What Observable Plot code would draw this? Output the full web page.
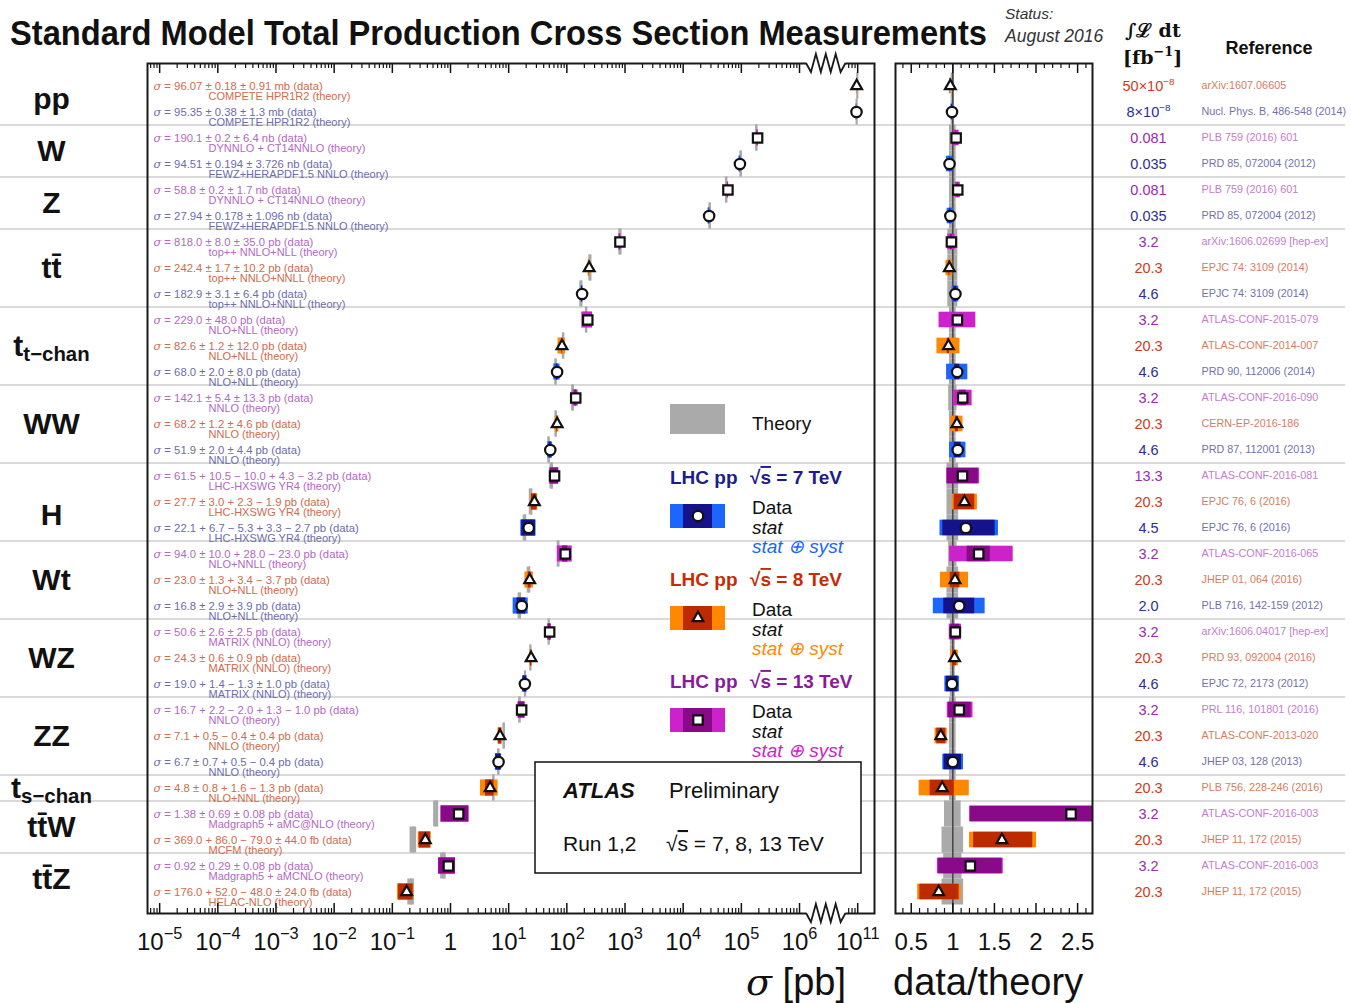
<!DOCTYPE html>
<html><head><meta charset="utf-8">
<script src="https://cdn.jsdelivr.net/npm/d3@7"></script>
<script src="https://cdn.jsdelivr.net/npm/@observablehq/plot@0.6"></script>
<style>
body{margin:0;background:#fff;}
#page{position:relative;width:1351px;height:1003px;overflow:hidden;font-family:"Liberation Sans",Arial,Helvetica,sans-serif;background:#fff;}
#page svg{position:absolute;top:0;}
</style></head><body><div id="page"></div>
<script>
// ---------------- DATA ----------------
const processes = ["pp","W","Z","tt\u0304","t_{t−chan}","WW","H","Wt","WZ","ZZ","t_{s−chan}","tt\u0304W","tt\u0304Z"];
const processRowCounts = [2,2,2,3,3,3,3,3,3,3,1,2,2];
const energies = [8,7, 13,7, 13,7, 13,8,7, 13,8,7, 13,8,7, 13,8,7, 13,8,7, 13,8,7, 13,8,7, 8, 13,8, 13,8];
const sigmaPb = [96.07e9,95.35e9,190.1e3,94.51e3,58.8e3,27.94e3,818.0,242.4,182.9,229.0,82.6,68.0,142.1,68.2,51.9,61.5,27.7,22.1,94.0,23.0,16.8,50.6,24.3,19.0,16.7,7.1,6.7,4.8,1.38,0.369,0.92,0.176];
const statUp   = [0.18e9,0.38e9,0.2e3,0.194e3,0.2e3,0.178e3,8.0,1.7,3.1,0,1.2,2.0,5.4,1.2,2.0,10.5,3.0,6.7,10.0,1.3,2.9,2.6,0.6,1.4,2.2,0.5,0.7,0.8,0.69,0.086,0.29,0.052];
const statDown = [0.18e9,0.38e9,0.2e3,0.194e3,0.2e3,0.178e3,8.0,1.7,3.1,0,1.2,2.0,5.4,1.2,2.0,10.0,3.0,5.3,10.0,1.3,2.9,2.6,0.6,1.3,2.0,0.4,0.7,0.8,0.69,0.079,0.29,0.048];
const systUp   = [0.91e9,1.3e9,6.4e3,3.726e3,1.7e3,1.096e3,35.0,10.2,6.4,48.0,12.0,8.0,13.3,4.6,4.4,4.3,2.3,3.3,28.0,3.4,3.9,2.5,0.9,1.0,1.3,0.4,0.5,1.6,0.08,0.044,0.08,0.024];
const systDown = [0.91e9,1.3e9,6.4e3,3.726e3,1.7e3,1.096e3,35.0,10.2,6.4,48.0,12.0,8.0,13.3,4.6,4.4,3.2,1.9,2.7,23.0,3.7,3.9,2.5,0.9,1.0,1.0,0.4,0.4,1.3,0.08,0.044,0.08,0.024];
const theoryPb = [99.0e9,96.3e9,182.8e3,98.4e3,55.5e3,28.8e3,832,252.9,177.3,217,87.2,64.6,127,65.0,49.0,55.1,24.3,19.1,71.7,22.4,15.6,49.1,23.8,19.2,15.5,8.3,6.7,5.5,0.57,0.232,0.76,0.212];
const theoryRelErr = [0.02,0.02,0.04,0.04,0.04,0.04,0.06,0.06,0.06,0.04,0.04,0.04,0.05,0.04,0.04,0.07,0.07,0.07,0.05,0.07,0.07,0.03,0.03,0.03,0.04,0.04,0.04,0.04,0.10,0.13,0.11,0.13];
const dataTexts = [
"σ = 96.07 ± 0.18 ± 0.91 mb (data)","σ = 95.35 ± 0.38 ± 1.3 mb (data)",
"σ = 190.1 ± 0.2 ± 6.4 nb (data)","σ = 94.51 ± 0.194 ± 3.726 nb (data)",
"σ = 58.8 ± 0.2 ± 1.7 nb (data)","σ = 27.94 ± 0.178 ± 1.096 nb (data)",
"σ = 818.0 ± 8.0 ± 35.0 pb (data)","σ = 242.4 ± 1.7 ± 10.2 pb (data)","σ = 182.9 ± 3.1 ± 6.4 pb (data)",
"σ = 229.0 ± 48.0 pb (data)","σ = 82.6 ± 1.2 ± 12.0 pb (data)","σ = 68.0 ± 2.0 ± 8.0 pb (data)",
"σ = 142.1 ± 5.4 ± 13.3 pb (data)","σ = 68.2 ± 1.2 ± 4.6 pb (data)","σ = 51.9 ± 2.0 ± 4.4 pb (data)",
"σ = 61.5 + 10.5 − 10.0 + 4.3 − 3.2 pb (data)","σ = 27.7 ± 3.0 + 2.3 − 1.9 pb (data)","σ = 22.1 + 6.7 − 5.3 + 3.3 − 2.7 pb (data)",
"σ = 94.0 ± 10.0 + 28.0 − 23.0 pb (data)","σ = 23.0 ± 1.3 + 3.4 − 3.7 pb (data)","σ = 16.8 ± 2.9 ± 3.9 pb (data)",
"σ = 50.6 ± 2.6 ± 2.5 pb (data)","σ = 24.3 ± 0.6 ± 0.9 pb (data)","σ = 19.0 + 1.4 − 1.3 ± 1.0 pb (data)",
"σ = 16.7 + 2.2 − 2.0 + 1.3 − 1.0 pb (data)","σ = 7.1 + 0.5 − 0.4 ± 0.4 pb (data)","σ = 6.7 ± 0.7 + 0.5 − 0.4 pb (data)",
"σ = 4.8 ± 0.8 + 1.6 − 1.3 pb (data)",
"σ = 1.38 ± 0.69 ± 0.08 pb (data)","σ = 369.0 + 86.0 − 79.0 ± 44.0 fb (data)",
"σ = 0.92 ± 0.29 ± 0.08 pb (data)","σ = 176.0 + 52.0 − 48.0 ± 24.0 fb (data)"];
const theoryTexts = [
"COMPETE HPR1R2 (theory)","COMPETE HPR1R2 (theory)",
"DYNNLO + CT14NNLO (theory)","FEWZ+HERAPDF1.5 NNLO (theory)",
"DYNNLO + CT14NNLO (theory)","FEWZ+HERAPDF1.5 NNLO (theory)",
"top++ NNLO+NLL (theory)","top++ NNLO+NNLL (theory)","top++ NNLO+NNLL (theory)",
"NLO+NLL (theory)","NLO+NLL (theory)","NLO+NLL (theory)",
"NNLO (theory)","NNLO (theory)","NNLO (theory)",
"LHC-HXSWG YR4 (theory)","LHC-HXSWG YR4 (theory)","LHC-HXSWG YR4 (theory)",
"NLO+NNLL (theory)","NLO+NLL (theory)","NLO+NLL (theory)",
"MATRIX (NNLO) (theory)","MATRIX (NNLO) (theory)","MATRIX (NNLO) (theory)",
"NNLO (theory)","NNLO (theory)","NNLO (theory)",
"NLO+NNL (theory)",
"Madgraph5 + aMC@NLO (theory)","MCFM (theory)",
"Madgraph5 + aMCNLO (theory)","HELAC-NLO (theory)"];
const lumiTexts = ["50×10^{−8}","8×10^{−8}","0.081","0.035","0.081","0.035","3.2","20.3","4.6","3.2","20.3","4.6","3.2","20.3","4.6","13.3","20.3","4.5","3.2","20.3","2.0","3.2","20.3","4.6","3.2","20.3","4.6","20.3","3.2","20.3","3.2","20.3"];
const refTexts = ["arXiv:1607.06605","Nucl. Phys. B, 486-548 (2014)","PLB 759 (2016) 601","PRD 85, 072004 (2012)","PLB 759 (2016) 601","PRD 85, 072004 (2012)",
"arXiv:1606.02699 [hep-ex]","EPJC 74: 3109 (2014)","EPJC 74: 3109 (2014)",
"ATLAS-CONF-2015-079","ATLAS-CONF-2014-007","PRD 90, 112006 (2014)",
"ATLAS-CONF-2016-090","CERN-EP-2016-186","PRD 87, 112001 (2013)",
"ATLAS-CONF-2016-081","EPJC 76, 6 (2016)","EPJC 76, 6 (2016)",
"ATLAS-CONF-2016-065","JHEP 01, 064 (2016)","PLB 716, 142-159 (2012)",
"arXiv:1606.04017 [hep-ex]","PRD 93, 092004 (2016)","EPJC 72, 2173 (2012)",
"PRL 116, 101801 (2016)","ATLAS-CONF-2013-020","JHEP 03, 128 (2013)",
"PLB 756, 228-246 (2016)","ATLAS-CONF-2016-003","JHEP 11, 172 (2015)","ATLAS-CONF-2016-003","JHEP 11, 172 (2015)"];
const xTickExponents = [-5,-4,-3,-2,-1,0,1,2,3,4,5,6,7];
const xTickLabels = ["10^{−5}","10^{−4}","10^{−3}","10^{−2}","10^{−1}","1","10^{1}","10^{2}","10^{3}","10^{4}","10^{5}","10^{6}","10^{11}"];
const ratioTicks = [0.5,1,1.5,2,2.5];
const ratioTickLabels = ["0.5","1","1.5","2","2.5"];
const axisBreakShift = 1e-4; // values above 1e8 pb are drawn after the axis break (10^11 shown at 10^7)

// ---------------- STYLES ----------------
const energyStyle = {
  7:  {stat:"#16128c", total:"#1a66ff", symbol:"circle",   r:5.2, note:"#6c6cac", lumi:"#2d2d98", ref:"#7272aa", legend:"#1c1c8e", label:"7"},
  8:  {stat:"#bb2a00", total:"#ff8800", symbol:"triangle", r:4.0, note:"#d26a4c", lumi:"#cf3a1c", ref:"#d77c60", legend:"#c42c06", label:"8"},
  13: {stat:"#880a88", total:"#cc22cc", symbol:"square",   r:5.3, note:"#b468c2", lumi:"#9c2aac", ref:"#c47ccc", legend:"#8b1a9b", label:"13"}
};
const labelNudgeRows = {"H": 0.5};
const FONT = "Liberation Sans, Arial, Helvetica, sans-serif";
const svgNS = "http://www.w3.org/2000/svg";
const page = document.getElementById("page");

// ---------------- DERIVED ----------------
const groups = []; let start = 0;
processes.forEach((p,k)=>{const n=processRowCounts[k]; groups.push({label:p, center:start+(n-1)/2}); start+=n;});
const separators = []; {let c=0; for(let k=0;k<processRowCounts.length-1;k++){c+=processRowCounts[k]; separators.push(c-0.5);}}
const rows = energies.map((e,i)=>{
  const s=sigmaPb[i], th=theoryPb[i], sc = s>1e8 ? axisBreakShift : 1;
  const tU=Math.hypot(statUp[i],systUp[i]), tD=Math.hypot(statDown[i],systDown[i]);
  return {i, e, row:i, x:s*sc,
    statLo:(s-statDown[i])*sc, statHi:(s+statUp[i])*sc, totLo:(s-tD)*sc, totHi:(s+tU)*sc,
    th:th*sc, thLo:th*(1-theoryRelErr[i])*sc, thHi:th*(1+theoryRelErr[i])*sc,
    r:s/th, rStatLo:(s-statDown[i])/th, rStatHi:(s+statUp[i])/th, rTotLo:(s-tD)/th, rTotHi:(s+tU)/th,
    rThLo:1-theoryRelErr[i], rThHi:1+theoryRelErr[i],
    dataText:dataTexts[i], theoryText:theoryTexts[i], lumi:lumiTexts[i], ref:refTexts[i]};
});

const H=1003, MT=63, MB=90, FH=H-MT-MB;
const yOpt = {domain:[-0.865,31.827], reverse:true, axis:null};
const xMajor = xTickExponents.map(k=>10**k);
const xMinor = [];
for(let k=-6;k<=7;k++) for(let m=2;m<=9;m++){const v=m*10**k; const l=Math.log10(v); if(l>-5.209&&l<7.289&&!(l>6.1&&l<6.83)) xMinor.push(v);}
const rMinor = d3.range(4,27).map(v=>v/10).filter(v=>Math.abs(v*2-Math.round(v*2))>1e-6);

function dotsFor(xField){
  return [7,8,13].map(e=>{const st=energyStyle[e];
    return Plot.dot(rows.filter(d=>d.e===e), {x:xField, y:"row", symbol:st.symbol, r:st.r, fill:"white", stroke:"#111", strokeWidth:2.2});});
}

// ---------------- LEFT PANEL ----------------
const plotA = Plot.plot({
  width:885, height:H, marginLeft:147, marginRight:11, marginTop:MT, marginBottom:MB,
  x:{type:"log", domain:[10**-5.209, 10**7.289], axis:null},
  y:yOpt, color:{type:"identity"},
  style:{background:"transparent", overflow:"visible", fontFamily:FONT},
  marks:[
    Plot.ruleY(separators, {y:d=>d, stroke:"#dadada", strokeWidth:2, insetLeft:-147, insetRight:-11}),
    Plot.text(rows, {y:"row", frameAnchor:"left", dx:6, text:"dataText", textAnchor:"start", fontSize:11.3, fill:d=>energyStyle[d.e].note}),
    Plot.text(rows, {y:"row", frameAnchor:"left", dx:61, dy:10, text:"theoryText", textAnchor:"start", fontSize:11, fill:d=>energyStyle[d.e].note}),
    Plot.rect(rows, {x1:"thLo", x2:"thHi", y1:d=>d.row-0.5, y2:d=>d.row+0.5, fill:"#aaaaaa"}),
    Plot.ruleX(rows, {x:"th", y1:d=>d.row-0.5, y2:d=>d.row+0.5, stroke:"#aaaaaa", strokeWidth:2}),
    Plot.rect(rows, {x1:"totLo", x2:"totHi", y1:d=>d.row-0.31, y2:d=>d.row+0.31, fill:d=>energyStyle[d.e].total}),
    Plot.rect(rows.filter(d=>d.statHi>d.statLo), {x1:"statLo", x2:"statHi", y1:d=>d.row-0.31, y2:d=>d.row+0.31, fill:d=>energyStyle[d.e].stat}),
    ...dotsFor("x"),
    Plot.ruleX(xMajor, {x:d=>d, insetBottom:FH-10, stroke:"#111", strokeWidth:1.5}),
    Plot.ruleX(xMajor, {x:d=>d, insetTop:FH-10, stroke:"#111", strokeWidth:1.5}),
    Plot.ruleX(xMinor, {x:d=>d, insetBottom:FH-5, stroke:"#111", strokeWidth:1.2}),
    Plot.ruleX(xMinor, {x:d=>d, insetTop:FH-5, stroke:"#111", strokeWidth:1.2}),
    Plot.frame({stroke:"#1a1a1a", strokeWidth:2}),
    Plot.text(xMajor, {x:d=>d, text:(d,i)=>xTickLabels[i], frameAnchor:"bottom", dy:36, fontSize:24, fill:"#111"}),
    Plot.text(groups, {y:d=>d.center+(labelNudgeRows[d.label]||0), text:"label", frameAnchor:"left", dx:-96, textAnchor:"middle", fontSize:30, fontWeight:"bold", fill:"#111"})
  ]
});
plotA.style.left = "0px";
page.appendChild(plotA);
{
  const xs = plotA.scale("x"); const s = d3.select(plotA);
  const zx0 = xs.apply(10**6.12), zx1 = xs.apply(10**6.80);
  [MT, H-MB].forEach(yy=>{
    s.append("rect").attr("x",zx0).attr("y",yy-3).attr("width",zx1-zx0).attr("height",6).attr("fill","white");
    const n=8; const pts=d3.range(n+1).map(j=>[zx0+(zx1-zx0)*j/n, (j===0||j===n)?yy:(j%2?yy+9:yy-9)]);
    s.append("path").attr("d",d3.line()(pts)).attr("fill","none").attr("stroke","#1a1a1a").attr("stroke-width",1.8);
  });
}

// ---------------- RATIO PANEL ----------------
const RMAX = 2.679, RMIN = 0.311;
const clampR = v=>Math.max(RMIN, Math.min(RMAX, v));
const plotB = Plot.plot({
  width:466, height:H, marginLeft:10, marginRight:259, marginTop:MT, marginBottom:MB,
  x:{domain:[RMIN,RMAX], axis:null}, y:yOpt, color:{type:"identity"},
  style:{background:"transparent", overflow:"visible", fontFamily:FONT},
  marks:[
    Plot.ruleY(separators, {y:d=>d, stroke:"#dadada", strokeWidth:2, insetLeft:-10, insetRight:-253}),
    Plot.rect(rows, {x1:"rThLo", x2:"rThHi", y1:d=>d.row-0.5, y2:d=>d.row+0.5, fill:"#aaaaaa"}),
    Plot.ruleX([1], {x:d=>d, stroke:"#444", strokeWidth:1.5}),
    Plot.rect(rows, {x1:d=>clampR(d.rTotLo), x2:d=>clampR(d.rTotHi), y1:d=>d.row-0.3, y2:d=>d.row+0.3, fill:d=>energyStyle[d.e].total}),
    Plot.rect(rows.filter(d=>d.rStatHi>d.rStatLo), {x1:d=>clampR(d.rStatLo), x2:d=>clampR(d.rStatHi), y1:d=>d.row-0.3, y2:d=>d.row+0.3, fill:d=>energyStyle[d.e].stat}),
    ...dotsFor("r"),
    Plot.ruleX(ratioTicks, {x:d=>d, insetBottom:FH-10, stroke:"#111", strokeWidth:1.5}),
    Plot.ruleX(ratioTicks, {x:d=>d, insetTop:FH-10, stroke:"#111", strokeWidth:1.5}),
    Plot.ruleX(rMinor, {x:d=>d, insetBottom:FH-5, stroke:"#111", strokeWidth:1.2}),
    Plot.ruleX(rMinor, {x:d=>d, insetTop:FH-5, stroke:"#111", strokeWidth:1.2}),
    Plot.frame({stroke:"#1a1a1a", strokeWidth:2}),
    Plot.text(ratioTicks, {x:d=>d, text:(d,i)=>ratioTickLabels[i], frameAnchor:"bottom", dy:36, fontSize:24, fill:"#111"}),
    Plot.text(rows, {y:"row", text:"lumi", frameAnchor:"right", dx:56, textAnchor:"middle", fontSize:14.5, fill:d=>energyStyle[d.e].lumi}),
    Plot.text(rows, {y:"row", text:"ref", frameAnchor:"right", dx:109, textAnchor:"start", fontSize:10.8, fill:d=>energyStyle[d.e].ref})
  ]
});
plotB.style.left = "885px";
page.appendChild(plotB);

// ---------------- OVERLAY: titles, legend, ATLAS box ----------------
const ov = d3.select(page).append("svg").attr("width",1351).attr("height",H).style("left","0px").style("pointer-events","none").style("font-family",FONT);
function T(x,y,s,o={}){const t=ov.append("text").attr("x",x).attr("y",y).text(s).attr("font-size",o.fs||18).attr("fill",o.fill||"#111");
  if(o.bold) t.attr("font-weight","bold"); if(o.italic) t.attr("font-style","italic"); if(o.anchor) t.attr("text-anchor",o.anchor);
  if(o.family) t.attr("font-family",o.family); return t;}
T(10,45,"Standard Model Total Production Cross Section Measurements",{fs:35,bold:true,family:"Liberation Sans Narrow, Liberation Sans, Arial, sans-serif"}).attr("textLength",977).attr("lengthAdjust","spacingAndGlyphs");
T(1005,19,"Status:",{fs:15.5,italic:true,fill:"#333"});
T(1005,42,"August 2016",{fs:17.5,italic:true,fill:"#333"});
T(1125,37,"∫ℒ dt",{fs:19,bold:true,family:"DejaVu Serif, serif"});
T(1123,64,"[fb^{−1}]",{fs:19,bold:true,family:"DejaVu Serif, serif"});
T(1269,54,"Reference",{fs:18,bold:true,anchor:"middle"});
T(846,995,"σ [pb]",{fs:38,anchor:"end"});
T(893,995,"data/theory",{fs:38});

// legend
ov.append("rect").attr("x",670).attr("y",404).attr("width",55).attr("height",30).attr("fill","#aaaaaa");
T(752,430,"Theory",{fs:19});
[7,8,13].forEach((e,k)=>{
  const st=energyStyle[e], y0=477+102*k;
  T(670,y0+7,"LHC pp",{fs:19,bold:true,fill:st.legend});
  const t=T(750,y0+7,"",{fs:19,bold:true,fill:st.legend});
  t.append("tspan").text("√");
  t.append("tspan").text("s").style("text-decoration","overline");
  t.append("tspan").text(" = "+st.label+" TeV");
  ov.append("rect").attr("x",670).attr("y",y0+27).attr("width",55).attr("height",24).attr("fill",st.total);
  ov.append("rect").attr("x",683).attr("y",y0+27).attr("width",29).attr("height",24).attr("fill",st.stat);
  const sym = {circle:d3.symbolCircle, triangle:d3.symbolTriangle, square:d3.symbolSquare}[st.symbol];
  ov.append("path").attr("d",d3.symbol(sym, Math.PI*st.r*st.r)()).attr("transform",`translate(698,${y0+39})`).attr("fill","white").attr("stroke","#111").attr("stroke-width",2.2);
  T(752,y0+37,"Data",{fs:19});
  T(752,y0+57,"stat",{fs:19,italic:true});
  T(752,y0+76,"stat ⊕ syst",{fs:19,italic:true,fill:st.total});
});
// ATLAS box
ov.append("rect").attr("x",535).attr("y",762).attr("width",326).attr("height",111).attr("fill","white").attr("stroke","#111").attr("stroke-width",1.5);
T(563,798,"ATLAS",{fs:22,bold:true,italic:true});
T(669,798,"Preliminary",{fs:22});
T(563,851,"Run 1,2",{fs:21});
{const t=T(666,851,"",{fs:21}); t.append("tspan").text("√"); t.append("tspan").text("s").style("text-decoration","overline"); t.append("tspan").text(" = 7, 8, 13 TeV");}

// ---------------- rich text (sub/superscripts, italic sigma) ----------------
function richify(root){
  root.querySelectorAll("text").forEach(t=>{
    if(t.querySelector("tspan")) return;
    const s=t.textContent;
    if(!/[\^_]\{/.test(s) && !s.startsWith("σ")) return;
    const fs=parseFloat(getComputedStyle(t).fontSize)||12;
    const parts=[]; let last=0; const re=/([\^_])\{([^}]*)\}/g; let m;
    const body=s;
    if(s.startsWith("σ")){parts.push({t:"σ",it:true}); last=1;}
    while((m=re.exec(body))){ if(m.index>last) parts.push({t:body.slice(last,m.index)}); parts.push({t:m[2],k:m[1]}); last=re.lastIndex; }
    if(last<body.length) parts.push({t:body.slice(last)});
    while(t.firstChild) t.removeChild(t.firstChild);
    let shift=0;
    parts.forEach(p=>{
      const ts=document.createElementNS(svgNS,"tspan");
      const target = p.k==="^" ? -0.42*fs : p.k==="_" ? 0.17*fs : 0;
      if(target-shift!==0) ts.setAttribute("dy", target-shift);
      shift=target;
      if(p.k) ts.setAttribute("font-size", 0.68*fs);
      if(p.it){ts.setAttribute("font-style","italic"); ts.setAttribute("font-family","DejaVu Serif, serif");}
      ts.textContent=p.t; t.appendChild(ts);
    });
  });
}
richify(plotA); richify(plotB); richify(ov.node());
</script></body></html>
